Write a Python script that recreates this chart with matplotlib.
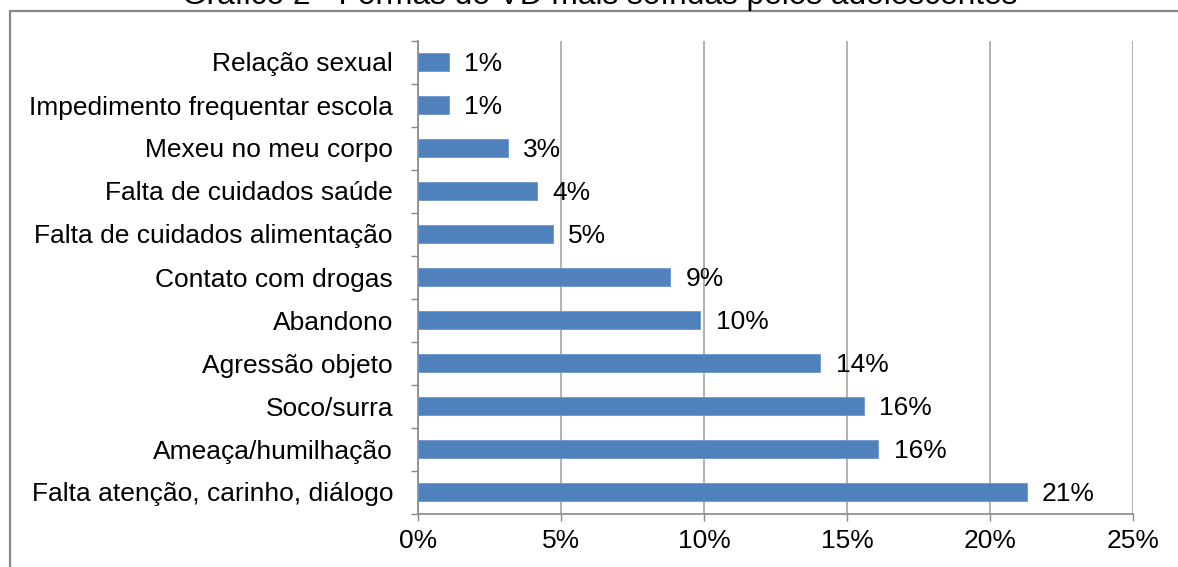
import matplotlib
matplotlib.use("Agg")
import matplotlib.pyplot as plt
from matplotlib.patches import Rectangle
import numpy as np

categories = [
    "Relação sexual",
    "Impedimento frequentar escola",
    "Mexeu no meu corpo",
    "Falta de cuidados saúde",
    "Falta de cuidados alimentação",
    "Contato com drogas",
    "Abandono",
    "Agressão objeto",
    "Soco/surra",
    "Ameaça/humilhação",
    "Falta atenção, carinho, diálogo",
]
values = [1.08, 1.08, 3.15, 4.17, 4.72, 8.82, 9.87, 14.07, 15.58, 16.10, 21.28]
value_labels = ["1%", "1%", "3%", "4%", "5%", "9%", "10%", "14%", "16%", "16%", "21%"]
xticks = [0, 5, 10, 15, 20, 25]
xtick_labels = ["0%", "5%", "10%", "15%", "20%", "25%"]
title = "Gráfico 2 - Formas de VD mais sofridas pelos adolescentes"

plt.rcParams['font.family'] = ['Liberation Sans', 'DejaVu Sans']

W, H = 1178, 567
fig = plt.figure(figsize=(W / 100, H / 100), dpi=100)
fig.patch.set_facecolor("white")

# outer chart frame
frame = Rectangle((10 / W, -0.05), 1.2, 1.05 - 11 / H, transform=fig.transFigure,
                  fill=False, edgecolor="#878787", linewidth=1.6, zorder=0)
fig.patches.append(frame)

fig.text(600 / W, 1 - 4 / H, title, ha="center", va="baseline", fontsize=22.8, color="black")

ax = fig.add_axes([418 / W, 1 - 513.5 / H, (1133 - 418) / W, (513.5 - 40.5) / H])
y = np.arange(len(categories))
ax.barh(y, values, height=0.42, color="#4F81BD", edgecolor="#6D97CC", linewidth=0.6, zorder=3)
ax.set_ylim(len(categories) - 0.5, -0.5)
ax.set_xlim(0, 25)

ax.set_yticks(y)
ax.set_yticklabels(categories, fontsize=19)
ax.set_yticks(np.arange(-0.5, len(categories)), minor=True)
ax.tick_params(axis="y", which="major", length=0, pad=18)
ax.tick_params(axis="y", which="minor", length=5, color="#878787", width=1)

ax.set_xticks(xticks)
ax.set_xticklabels(xtick_labels, fontsize=19)
ax.tick_params(axis="x", length=5, color="#878787", width=1, pad=6)

ax.grid(axis="x", color="#A6A6A6", linewidth=1.2, zorder=0)
ax.set_axisbelow(True)
for s in ["top", "right"]:
    ax.spines[s].set_visible(False)
for s in ["left", "bottom"]:
    ax.spines[s].set_color("#878787")
    ax.spines[s].set_linewidth(1.2)

for yi, v, lab in zip(y, values, value_labels):
    ax.annotate(lab, xy=(v, yi), xytext=(11, -1.5), textcoords="offset points",
                ha="left", va="center", fontsize=19, color="black", zorder=4)

fig.savefig("out.png", dpi=100, facecolor="white")
